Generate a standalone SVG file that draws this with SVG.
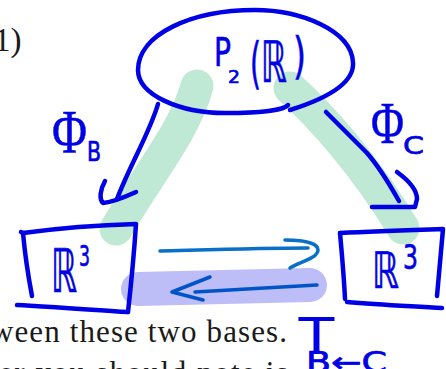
<svg xmlns="http://www.w3.org/2000/svg" width="446" height="369" viewBox="0 0 446 369">
<style>
.ink{fill:none;stroke:#0000e6;stroke-width:4.5;stroke-linecap:round;stroke-linejoin:round}
.hw{fill:#0000e6;stroke:#0000e6;stroke-width:0.7;stroke-linejoin:round;font-family:"DejaVu Sans",sans-serif}
.hws{fill:#0000e6;stroke:#0000e6;stroke-width:0.5;stroke-linejoin:round;font-family:"Liberation Serif","DejaVu Serif",serif}
.green{fill:none;stroke:#bfe9d4;stroke-linecap:round;stroke-linejoin:round}
.lav{fill:none;stroke:#bdbdf7;stroke-linecap:round}
.arrA{fill:none;stroke:#0a6fc8;stroke-width:3.5;stroke-linecap:round;stroke-linejoin:round}
.arrB{fill:none;stroke:#0054c8;stroke-width:3.5;stroke-linecap:round;stroke-linejoin:round}
.print{fill:#1a1a1a;font-family:"Liberation Serif","DejaVu Serif",serif}
</style>
<rect width="446" height="369" fill="#ffffff"/>
<g id="printed-text">
<text class="print" x="-6" y="51" font-size="33">1)</text>
<text class="print" x="-9" y="342" font-size="31" textLength="296" lengthAdjust="spacing">ween these two bases.</text>
<text class="print" x="-1" y="383" font-size="31" textLength="289" lengthAdjust="spacing">er you should note is</text>
</g>
<g id="highlights">
<path class="green" stroke-width="33" d="M197,86 C185,130 150,172 116,229"/>
<path class="green" stroke-width="33" d="M290,88 C320,115 365,165 403,228"/>
<path class="lav" stroke-width="34" d="M138,289 L310,285"/>
</g>
<g id="connectors">
<g id="arrow-phiB">
<path class="ink" d="M158,104 C150,132 130,165 117,199"/>
<path class="ink" d="M105,181 C100,190 99,199 103,203 C114,202 125,197 136,192"/>
</g>
<g id="arrow-phiC">
<path class="ink" d="M326,112 L367,153 C380,168 390,185 399,201"/>
<path class="ink" d="M397,172 C408,180 417,190 417,199 L415,207 L372,207"/>
</g>
<g id="arrow-right">
<path class="arrA" d="M160,251 C200,250 260,248 308,248"/>
<path class="arrA" d="M285,240 C300,240 318,242 318,250 C318,258 300,262 290,268"/>
</g>
<g id="arrow-left">
<path class="arrB" d="M317,285 C280,287 230,290 195,292"/>
<path class="arrB" d="M210,277 L172,292 L203,300"/>
</g>
</g>
<g id="node-P2R">
<path class="ink" d="M288,105 C285,110 260,113 225,113 C180,113 138,95 138,70 C138,35 190,10 255,10 C300,10 351,30 353,62 C355,85 322,100 290,110"/>
<text class="hw" x="214" y="66" font-size="39" textLength="17" lengthAdjust="spacingAndGlyphs">P</text>
<text class="hw" x="228" y="83" font-size="18" textLength="12" lengthAdjust="spacingAndGlyphs">2</text>
<text class="hw" x="250" y="82" font-size="56" textLength="11" lengthAdjust="spacingAndGlyphs">(</text>
<text class="hw" x="261" y="82" font-size="57" textLength="26" lengthAdjust="spacingAndGlyphs">ℝ</text>
<text class="hw" x="293" y="73" font-size="50" textLength="13" lengthAdjust="spacingAndGlyphs">)</text>
</g>
<g id="node-R3-left">
<path class="ink" d="M21,232 L23,233 C25,255 28,275 32,296"/>
<path class="ink" d="M23,233 C60,228 100,225 136,224 C134,255 131,285 128,312"/>
<path class="ink" d="M17,305 C55,307 95,310 128,312"/>
<text class="hw" x="51" y="292" font-size="60" textLength="26" lengthAdjust="spacingAndGlyphs">ℝ</text>
<text class="hw" x="79" y="266" font-size="28" textLength="11" lengthAdjust="spacingAndGlyphs">3</text>
</g>
<g id="node-R3-right">
<path class="ink" d="M340,233 C375,231 410,230 443,229 C441,250 439,272 437,296"/>
<path class="ink" d="M340,233 C342,255 344,278 345,299"/>
<path class="ink" d="M347,302 C380,305 410,306 442,308"/>
<text class="hw" x="372" y="288" font-size="50" textLength="27" lengthAdjust="spacingAndGlyphs">ℝ</text>
<text class="hw" x="403" y="269" font-size="34" textLength="15" lengthAdjust="spacingAndGlyphs">3</text>
</g>
<g id="label-phiB">
<text class="hws" x="52" y="152" font-size="62" textLength="35" lengthAdjust="spacingAndGlyphs">Φ</text>
<text class="hw" x="87" y="161" font-size="26" textLength="14" lengthAdjust="spacingAndGlyphs">B</text>
</g>
<g id="label-phiC">
<text class="hws" x="371" y="143" font-size="60" textLength="33" lengthAdjust="spacingAndGlyphs">Φ</text>
<text class="hw" x="403" y="154" font-size="25" textLength="21" lengthAdjust="spacingAndGlyphs">C</text>
</g>
<g id="label-T">
<text x="297" y="354" font-size="54" textLength="39" lengthAdjust="spacingAndGlyphs" fill="#0000e6" font-family="Liberation Sans, Arial, sans-serif">T</text>
<text class="hw" x="306" y="372" font-size="28" textLength="81" lengthAdjust="spacingAndGlyphs">B←C</text>
</g>
</svg>
